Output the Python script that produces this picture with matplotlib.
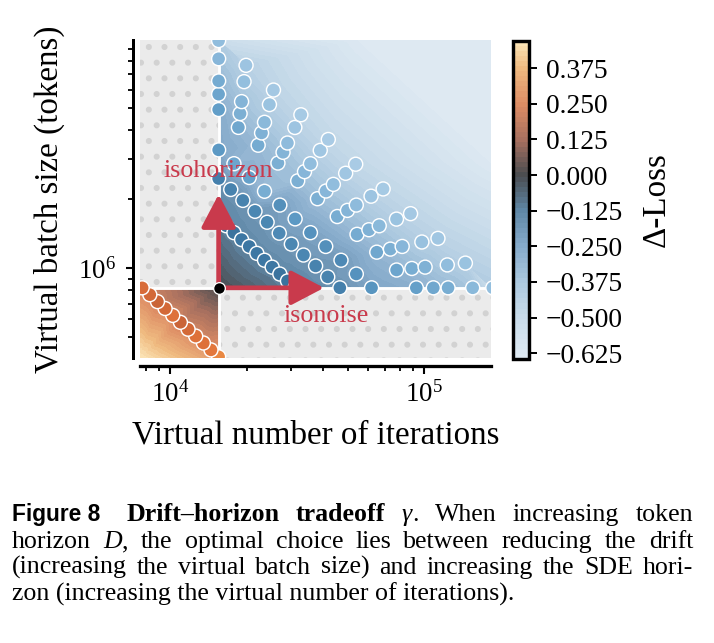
import numpy as np
import matplotlib
matplotlib.use("Agg")
import matplotlib.pyplot as plt
import matplotlib.tri as mtri
from matplotlib.colors import LinearSegmentedColormap, Normalize
from matplotlib.patches import Rectangle
from matplotlib.ticker import FuncFormatter

# ------------------------------------------------------------------ data
base_iters = 1.55e4          # reference virtual number of iterations
base_batch = 8.2e5           # reference virtual batch size (tokens)
x_limits = (7.6e3, 1.83e5)
y_limits = (4.05e5, 9.9e6)

horizon_mult = [0.5, 2, 3, 4, 6, 7, 8, 10, 12]          # token horizon / reference
iter_share = [0.0, 0.1, 0.2, 0.3, 0.4, 0.5, 0.6, 0.7, 0.8, 0.9, 1.0]

dloss_h0_5 = [0.30, 0.26, 0.24, 0.24, 0.22, 0.20, 0.24, 0.22, 0.20, 0.22, 0.23]
dloss_h2 = [-0.11, -0.12, -0.12, -0.13, -0.13, -0.13, -0.13, -0.13, -0.12, -0.12, -0.12]
dloss_h3 = [-0.16, -0.17, -0.17, -0.18, -0.18, -0.19, -0.18, -0.18, -0.17, -0.17, -0.16]
dloss_h4 = [-0.24, -0.29, -0.27, -0.32, -0.21, -0.24, -0.22, -0.21, -0.19, -0.22, -0.23]
dloss_h6 = [-0.26, -0.30, -0.31, -0.33, -0.33, -0.33, -0.32, -0.31, -0.30, -0.29, -0.27]
dloss_h7 = [-0.29, -0.33, -0.34, -0.35, -0.36, -0.36, -0.35, -0.34, -0.33, -0.32, -0.30]
dloss_h8 = [-0.31, -0.35, -0.37, -0.38, -0.39, -0.39, -0.38, -0.37, -0.36, -0.34, -0.32]
dloss_h10 = [-0.36, -0.40, -0.42, -0.43, -0.44, -0.44, -0.43, -0.42, -0.41, -0.39, -0.37]
dloss_h12 = [-0.39, -0.43, -0.45, -0.46, -0.47, -0.47, -0.46, -0.45, -0.44, -0.42, -0.40]
dloss_rows = [dloss_h0_5, dloss_h2, dloss_h3, dloss_h4, dloss_h6,
              dloss_h7, dloss_h8, dloss_h10, dloss_h12]

# surface values at the corners of the two coloured regions
blue_anchor_iters = [1.55e4, 1.55e4, 1.83e5, 1.83e5, 5.5e4, 1.83e5]
blue_anchor_batch = [8.2e5, 9.9e6, 8.2e5, 9.9e6, 9.9e6, 2.9e6]
blue_anchor_dloss = [0.0, -0.52, -0.52, -0.645, -0.63, -0.63]
orange_anchor_iters = [1.55e4, 7.6e3, 7.6e3, 1.55e4]
orange_anchor_batch = [8.2e5, 4.05e5, 8.2e5, 4.05e5]
orange_anchor_dloss = [0.0, 0.47, 0.22, 0.28]

cbar_ticks = [-0.625, -0.5, -0.375, -0.25, -0.125, 0.0, 0.125, 0.25, 0.375]
cbar_range = (-0.645, 0.47)

caption_lines = [
    [[("Figure 8", "fig")], [("Drift\u2013horizon", "b")], [("tradeoff", "b")],
     [("\u03b3", "i"), (".", "r")], [("When", "r")], [("increasing", "r")], [("token", "r")]],
    [[("horizon", "r")], [("D", "i"), (",", "r")], [("the", "r")], [("optimal", "r")],
     [("choice", "r")], [("lies", "r")], [("between", "r")], [("reducing", "r")],
     [("the", "r")], [("drift", "r")]],
    [[("(increasing", "r")], [("the", "r")], [("virtual", "r")], [("batch", "r")],
     [("size)", "r")], [("and", "r")], [("increasing", "r")], [("the", "r")],
     [("SDE", "r")], [("hori-", "r")]],
]
caption_last = "zon (increasing the virtual number of iterations)."

# ------------------------------------------------------------------ style
DPI = 94
W, H = 714, 643
plt.rcParams["font.family"] = ["Liberation Serif", "DejaVu Serif"]
plt.rcParams["mathtext.fontset"] = "stix"
plt.rcParams["hatch.linewidth"] = 2.2
PT = 72.0 / DPI  # points per pixel

red = "#c93a4c"
span = cbar_range[1] - cbar_range[0]


def make_cmap(name, stops):
    return LinearSegmentedColormap.from_list(
        name, [((v - cbar_range[0]) / span, c) for v, c in stops])


cmap = make_cmap("dl_points", [
    (-0.645, "#d3e5f2"), (-0.5, "#b2d1e8"), (-0.375, "#8cbadb"),
    (-0.25, "#5e9bc6"), (-0.125, "#3c76a2"), (0.0, "#2e3236"),
    (0.125, "#a24a32"), (0.25, "#e2733a"), (0.375, "#f4a851"), (0.47, "#fde2a0")])
cmap_field = make_cmap("dl_field", [
    (-0.645, "#dfeaf3"), (-0.5, "#c9dcea"), (-0.375, "#abc8df"),
    (-0.25, "#86abcb"), (-0.125, "#5f87a6"), (0.0, "#4a4c50"),
    (0.125, "#a8705f"), (0.25, "#dd8c64"), (0.375, "#efba80"), (0.47, "#fce6b8")])
norm = Normalize(*cbar_range)
levels = np.linspace(cbar_range[0], cbar_range[1], 64)

fig = plt.figure(figsize=(W / DPI, H / DPI), dpi=DPI)
ax = fig.add_axes([140 / W, 1 - 358 / H, 351 / W, 318 / H])
ax.set_xscale("log")
ax.set_yscale("log")
ax.set_xlim(*x_limits)
ax.set_ylim(*y_limits)

# ---------------------------------------------------------- point positions
px, py, pv = [], [], []
for h, row in zip(horizon_mult, dloss_rows):
    for a, v in zip(iter_share, row):
        px.append(base_iters * h ** a)
        py.append(base_batch * h ** (1 - a))
        pv.append(v)
px, py, pv = np.array(px), np.array(py), np.array(pv)
hm = np.repeat(horizon_mult, len(iter_share))


def surface(xs, ys, zs, xr, yr):
    lx, ly = np.log10(xs), np.log10(ys)
    tri = mtri.Triangulation(lx, ly)
    interp = mtri.LinearTriInterpolator(tri, zs)
    gu = np.linspace(np.log10(xr[0]), np.log10(xr[1]), 320)
    gv = np.linspace(np.log10(yr[0]), np.log10(yr[1]), 320)
    UU, VV = np.meshgrid(gu, gv)
    Z = interp(UU, VV)
    return 10 ** UU, 10 ** VV, Z


blue = hm > 1
bx = np.concatenate([px[blue], blue_anchor_iters])
by = np.concatenate([py[blue], blue_anchor_batch])
bz = np.concatenate([pv[blue], blue_anchor_dloss])
X1, Y1, Z1 = surface(bx, by, bz, (base_iters, x_limits[1]), (base_batch, y_limits[1]))
cs = ax.contourf(X1, Y1, Z1, levels=levels, cmap=cmap_field, norm=norm, zorder=1)

orange = hm < 1
ox = np.concatenate([px[orange], orange_anchor_iters])
oy = np.concatenate([py[orange], orange_anchor_batch])
oz = np.concatenate([pv[orange], orange_anchor_dloss])
X2, Y2, Z2 = surface(ox, oy, oz, (x_limits[0], base_iters), (y_limits[0], base_batch))
ax.contourf(X2, Y2, Z2, levels=levels, cmap=cmap_field, norm=norm, zorder=1)

# gray hatched (excluded) regions
for (x_a, y_a, x_b, y_b) in [(x_limits[0] * 0.8, base_batch, base_iters, y_limits[1] * 1.2),
                             (base_iters, y_limits[0] * 0.8, x_limits[1] * 1.2, base_batch)]:
    ax.add_patch(Rectangle((x_a, y_a), x_b - x_a, y_b - y_a, facecolor="#ebebeb",
                           edgecolor="#d2d2d2", hatch=".", lw=0, zorder=2))
ax.axvline(base_iters, color="white", lw=2.2, zorder=3)
ax.axhline(base_batch, color="white", lw=2.2, zorder=3)

ax.scatter(px, py, c=pv, cmap=cmap, norm=norm, s=115, edgecolors="white",
           linewidths=1.1, zorder=4)

arrow_kw = dict(arrowstyle="-|>,head_length=0.8,head_width=0.42", lw=3.6,
                color=red, shrinkA=0, shrinkB=0, mutation_scale=27)
ax.annotate("", xy=(base_iters, base_batch * 2.56), xytext=(base_iters, base_batch),
            arrowprops=arrow_kw, zorder=5)
ax.annotate("", xy=(base_iters * 2.6, base_batch), xytext=(base_iters, base_batch),
            arrowprops=arrow_kw, zorder=5)
ax.scatter([base_iters], [base_batch], s=80, c="black", edgecolors="white",
           linewidths=1.0, zorder=6)
ax.text(base_iters, base_batch * 3.25, "isohorizon", color=red, fontsize=26 * PT,
        ha="center", va="center", zorder=7)
ax.text(base_iters * 2.65, base_batch * 0.75, "isonoise", color=red, fontsize=26 * PT,
        ha="center", va="center", zorder=7)

# axes styling
for s in ["top", "right"]:
    ax.spines[s].set_visible(False)
ax.spines["left"].set_position(("outward", 7 * PT))
ax.spines["bottom"].set_position(("outward", 8 * PT))
ax.spines["left"].set_linewidth(2.3)
ax.spines["bottom"].set_linewidth(2.5)
ax.tick_params(which="major", length=7.5 * PT, width=1.6, labelsize=27 * PT)
ax.tick_params(axis="x", which="major", pad=6)
ax.tick_params(axis="y", which="major", pad=7)
ax.tick_params(which="minor", length=5 * PT, width=1.4)
ax.set_xlabel("Virtual number of iterations", fontsize=33 * PT, labelpad=9)
ax.set_ylabel("Virtual batch size (tokens)", fontsize=33 * PT, labelpad=10)

# colorbar
cax = fig.add_axes([513 / W, 1 - 359 / H, 16 / W, 318 / H])
cb = fig.colorbar(cs, cax=cax)
cb.set_ticks(cbar_ticks)
cb.ax.yaxis.set_major_formatter(FuncFormatter(lambda v, p: f"{v:.3f}".replace("-", "\u2212")))
cb.outline.set_linewidth(2.6)
cb.ax.tick_params(length=7.5 * PT, width=1.5, labelsize=27.5 * PT, pad=7)
cb.ax.minorticks_off()
cb.set_label("\u0394-Loss", fontsize=33 * PT, labelpad=14)

# ------------------------------------------------------------------ caption
fonts = {
    "fig": dict(family=["Liberation Sans", "DejaVu Sans"], weight="bold"),
    "b": dict(weight="bold"),
    "i": dict(style="italic"),
    "r": dict(),
}
renderer = fig.canvas.get_renderer()
probe = fig.text(0, 0, caption_last, transform=None, fontsize=10)
nat_w = probe.get_window_extent(renderer).width
probe.remove()
x_left, x_right = 12, 693
cap_size = 10 * 429.0 / nat_w * 1.16
baselines = [521, 548, 574, 601]

for li, words in enumerate(caption_lines):
    placed = []
    widths = []
    for word in words:
        parts = []
        wsum = 0
        for s, st in word:
            size = cap_size * (0.88 if st == "fig" else 1.0)
            t = fig.text(0, H - baselines[li], s, transform=None, fontsize=size,
                         va="baseline", ha="left", **fonts[st])
            bw = t.get_window_extent(renderer).width
            parts.append((t, bw))
            wsum += bw
        placed.append(parts)
        widths.append(wsum)
    weights = [1.6 if words[k][0][1] == "fig" else 1.0 for k in range(len(words) - 1)]
    gap = (x_right - x_left - sum(widths)) / sum(weights)
    x = x_left
    for k, parts in enumerate(placed):
        xx = x
        for t, bw in parts:
            t.set_x(xx)
            xx += bw
        x += widths[k] + (gap * weights[k] if k < len(weights) else 0)

fig.text(x_left, H - baselines[3], caption_last, transform=None, fontsize=cap_size,
         va="baseline", ha="left")

fig.savefig("out.png", dpi=DPI, facecolor="white")
